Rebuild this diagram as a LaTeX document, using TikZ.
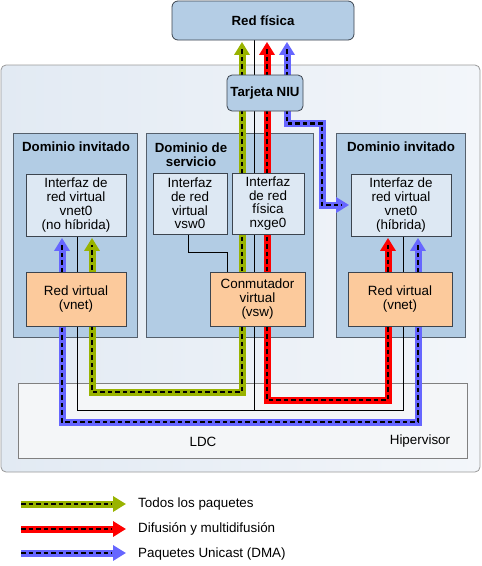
\documentclass[tikz,border=0pt]{standalone}
\usepackage{fontspec}
\setmainfont{Liberation Sans}
\usetikzlibrary{arrows.meta,calc}
\pgfdeclarelayer{bg}\pgfdeclarelayer{mid}\pgfsetlayers{bg,mid,main}
\definecolor{domfill}{RGB}{178,204,228}
\definecolor{domline}{RGB}{85,96,108}
\definecolor{iffill}{RGB}{221,232,243}
\definecolor{ifline}{RGB}{60,68,78}
\definecolor{orfill}{RGB}{252,202,156}
\definecolor{netfill}{RGB}{180,205,229}
\definecolor{panelL}{RGB}{226,234,243}
\definecolor{panelR}{RGB}{243,246,250}
\definecolor{hipfill}{RGB}{244,246,248}
\definecolor{flowgreen}{RGB}{153,179,0}
\definecolor{flowred}{RGB}{255,0,0}
\definecolor{flowblue}{RGB}{102,102,255}
\tikzset{
  flowtip/.tip={Triangle[length=13pt,width=15pt]},
  txt/.style={font=\fontsize{13.4}{13.7}\selectfont, align=center, inner sep=0pt},
  boldtxt/.style={font=\fontsize{13.3}{14}\selectfont\bfseries, align=center, inner sep=0pt},
  dombox/.style={draw=domline, fill=domfill, line width=0.8pt, inner sep=0pt},
  ifbox/.style={txt, draw=ifline, fill=iffill, line width=0.8pt},
  vbox/.style={txt, draw=ifline, fill=orfill, line width=0.8pt},
  netbox/.style={boldtxt, draw=ifline, fill=netfill, line width=0.8pt, rounded corners=6pt},
  flowline/.style={line width=7pt, draw=#1, shorten <=1.5pt, shorten >=1.5pt},
  flowdash/.style={line width=2.6pt, draw=black, dash pattern=on 4.5pt off 3pt},
  thinline/.style={line width=0.6pt, draw=black}
}
\newcommand\flowpath[4]{\draw[flowline=#1,#2] #4; \draw[flowdash,#3] #4;}
\begin{document}
\begin{tikzpicture}[x=1pt,y=-1pt]
\useasboundingbox (0,0) rectangle (482,566);
\begin{pgfonlayer}{bg}
\node[draw=black!40, left color=panelL, right color=panelR, rounded corners=5pt, line width=0.8pt, minimum width=479pt, minimum height=407pt, inner sep=0pt] (panel) at (240.5,268.5) {};
\node[draw=black!50, fill=hipfill, line width=0.8pt, minimum width=449pt, minimum height=75pt, inner sep=0pt] (hip) at (242.5,420.5) {};
\node[dombox, minimum width=124pt, minimum height=204pt] (dl) at (75,235) {};
\node[dombox, minimum width=167pt, minimum height=204pt] (ds) at (229.5,235) {};
\node[dombox, minimum width=129pt, minimum height=204pt] (dr) at (400.5,235) {};
\end{pgfonlayer}
\node[boldtxt] (tl) at (76,147) {Dominio invitado};
\node[boldtxt] (ts) at (191,155) {Dominio de\\servicio};
\node[boldtxt] (tr) at (401,147) {Dominio invitado};
\node[txt] (ldc) at (203,442) {LDC};
\node[txt] (hipt) at (420,441) {Hipervisor};
% inner boxes
\node[ifbox, minimum width=100pt, minimum height=62pt] (lif) at (76,205) {Interfaz de\\red virtual\\vnet0\\(no híbrida)};
\node[vbox, minimum width=100pt, minimum height=54pt] (lvn) at (76,299) {Red virtual\\(vnet)};
\node[ifbox, minimum width=74pt, minimum height=61pt] (vsw) at (190,203.5) {Interfaz\\de red\\virtual\\vsw0};
\node[ifbox, minimum width=72pt, minimum height=61pt] (nxge) at (268,203.5) {Interfaz\\de red\\física\\nxge0};
\node[vbox, minimum width=95pt, minimum height=54pt] (conm) at (257.5,299) {Conmutador\\virtual\\(vsw)};
\node[ifbox, minimum width=100pt, minimum height=62pt] (rif) at (401,205) {Interfaz de\\red virtual\\vnet0\\(híbrida)};
\node[vbox, minimum width=104pt, minimum height=54pt] (rvn) at (400,299) {Red virtual\\(vnet)};
\node[netbox, minimum width=76pt, minimum height=36pt, rounded corners=5pt] (niu) at (265,93) {Tarjeta NIU};
\node[netbox, minimum width=182pt, minimum height=39pt] (redfis) at (263,20.5) {Red física};
% lines and flows
\begin{pgfonlayer}{mid}
\draw[thinline] (redfis.south -| 254.5,0) -- (254.5,410);
\draw[thinline] (lif.south -| 77,0) -- (77,410) -- (403,410) -- (rif.south -| 403,0);
\draw[thinline] (vsw.south -| 188,0) |- (227,252) -- (conm.north -| 227,0);
\flowpath{flowgreen}{flowtip-flowtip}{shorten <=9pt, shorten >=9pt}{(redfis.south -| 242,0) -- (242,392) -- (92,392) -- (lif.south -| 92,0)}
\flowpath{flowred}{flowtip-flowtip}{shorten <=9pt, shorten >=9pt}{(redfis.south -| 267,0) -- (267,400) -- (388,400) -- (rif.south -| 388,0)}
\flowpath{flowblue}{flowtip-flowtip}{shorten <=9pt, shorten >=9pt}{(redfis.south -| 287,0) -- (287,123.5) -- (322,123.5) -- (322,205) -- (rif.west)}
\flowpath{flowblue}{flowtip-flowtip}{shorten <=9pt, shorten >=9pt}{(lif.south -| 62,0) -- (62,422) -- (418,422) -- (rif.south -| 418,0)}
\end{pgfonlayer}
% legend
\coordinate (lg1a) at (21,504); \coordinate (lg1b) at (126,504);
\coordinate (lg2a) at (21,529); \coordinate (lg2b) at (126,529);
\coordinate (lg3a) at (21,553); \coordinate (lg3b) at (126,553);
\draw[line width=7pt, draw=flowgreen, -flowtip] (lg1a) -- (lg1b); \draw[flowdash, shorten >=14pt] (lg1a) -- (lg1b);
\draw[line width=7pt, draw=flowred, -flowtip] (lg2a) -- (lg2b); \draw[flowdash, shorten >=14pt] (lg2a) -- (lg2b);
\draw[line width=7pt, draw=flowblue, -flowtip] (lg3a) -- (lg3b); \draw[flowdash, shorten >=14pt] (lg3a) -- (lg3b);
\node[txt, anchor=west] (lt1) at (138,504) {Todos los paquetes};
\node[txt, anchor=west] (lt2) at (138,529) {Difusión y multidifusión};
\node[txt, anchor=west] (lt3) at (138,554) {Paquetes Unicast (DMA)};
\end{tikzpicture}
\end{document}
